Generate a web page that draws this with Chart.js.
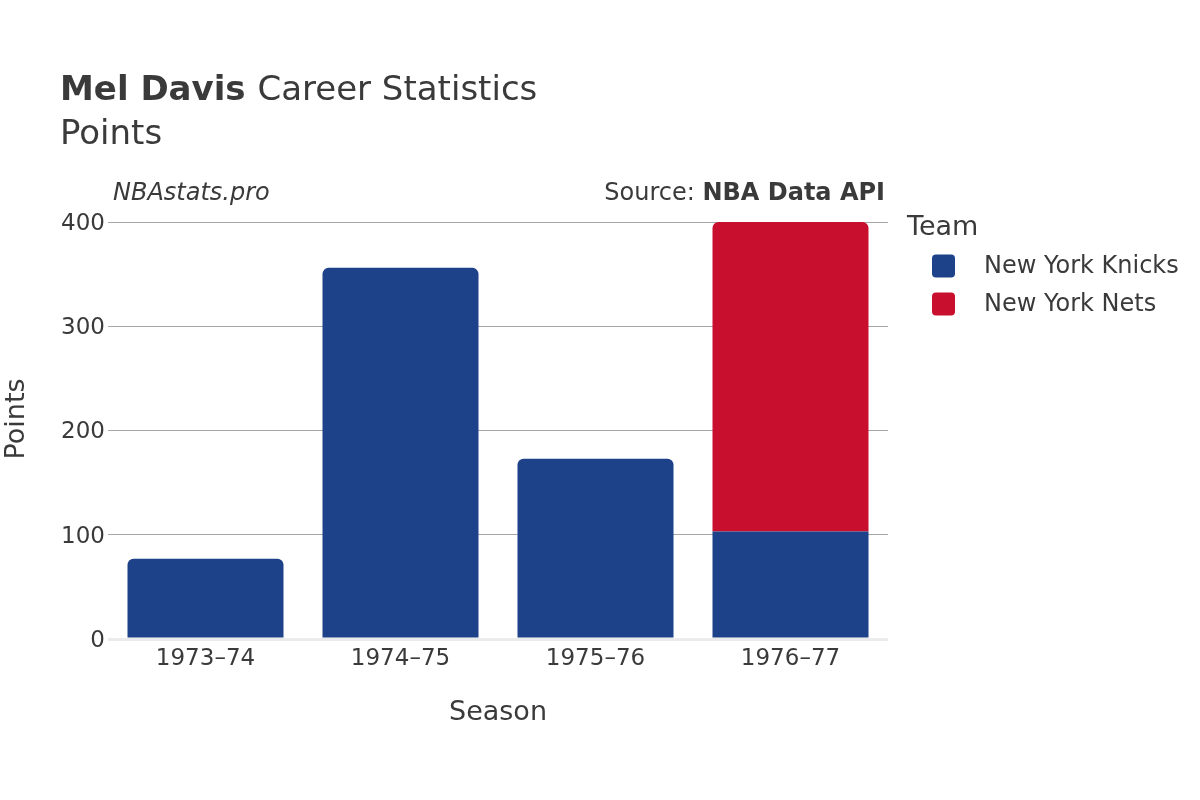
<!DOCTYPE html>
<html>
<head>
<meta charset="utf-8">
<script src="https://cdn.jsdelivr.net/npm/chart.js@4/dist/chart.umd.min.js"></script>
<style>
  html, body { margin: 0; padding: 0; background: #fff; }
  #wrap { width: 1200px; height: 800px; }
</style>
</head>
<body>
<div id="wrap"><canvas id="chart" width="1200" height="800"></canvas></div>
<script>
const seasons = ['1973–74', '1974–75', '1975–76', '1976–77'];
const knicksPts = [77, 356, 173, 103];
const netsPts   = [null, null, null, 297];
const yTicks    = [0, 100, 200, 300, 400];

const FONT = "'DejaVu Sans', sans-serif";
const TXT  = '#3a3a3a';

// header, y title and legend drawn straight onto the canvas
const decor = {
  id: 'decor',
  afterDraw(chart) {
    const c = chart.ctx;
    c.save();
    c.fillStyle = TXT;
    c.textBaseline = 'alphabetic';
    c.textAlign = 'left';

    c.font = `bold 34px ${FONT}`;
    c.fillText('Mel Davis', 60, 100);
    const w = c.measureText('Mel Davis ').width;
    c.font = `34px ${FONT}`;
    c.fillText('Career Statistics', 60 + w, 100);
    c.fillText('Points', 60, 144);

    c.font = `italic 24px ${FONT}`;
    c.fillText('NBAstats.pro', 113, 200);

    c.textAlign = 'right';
    c.font = `bold 24px ${FONT}`;
    const src = 'NBA Data API';
    c.fillText(src, 885, 200);
    const sw = c.measureText(src).width;
    c.font = `24px ${FONT}`;
    c.fillText('Source: ', 885 - sw, 200);

    // y axis title
    c.save();
    c.translate(17, 419);
    c.rotate(-Math.PI / 2);
    c.textAlign = 'center';
    c.textBaseline = 'middle';
    c.font = `27px ${FONT}`;
    c.fillText('Points', 0, 0);
    c.restore();

    // legend
    c.textAlign = 'left';
    c.textBaseline = 'middle';
    c.font = `27px ${FONT}`;
    c.fillText('Team', 907, 228);
    c.font = `24px ${FONT}`;
    chart.data.datasets.forEach((ds, i) => {
      const y = 266 + i * 38;
      c.fillStyle = ds.backgroundColor;
      c.beginPath();
      c.roundRect(932, y - 11.5, 23, 23, 4);
      c.fill();
      c.fillStyle = TXT;
      c.fillText(ds.label, 984, y + 1);
    });
    c.restore();
  }
};

new Chart(document.getElementById('chart'), {
  type: 'bar',
  data: {
    labels: seasons,
    datasets: [
      {
        label: 'New York Knicks',
        data: knicksPts,
        backgroundColor: '#1d428a',
        borderRadius: 6,
        borderSkipped: 'bottom',
      },
      {
        label: 'New York Nets',
        data: netsPts,
        backgroundColor: '#c8102e',
        borderColor: '#ffffff',
        borderWidth: { top: 0, left: 0, right: 0, bottom: 1 },
        borderRadius: 6,
        borderSkipped: 'bottom',
      }
    ]
  },
  options: {
    responsive: false,
    animation: false,
    layout: { padding: { top: 222, right: 312, left: 0, bottom: 0 } },
    plugins: { legend: { display: false }, tooltip: { enabled: false } },
    datasets: { bar: { categoryPercentage: 1, barPercentage: 0.8 } },
    scales: {
      x: {
        stacked: true,
        afterFit: s => { s.height = 161; },
        grid: { display: false },
        border: { display: false },
        ticks: { color: TXT, font: { family: FONT, size: 23 }, padding: -2, maxRotation: 0 },
        title: { display: true, text: 'Season', color: TXT, font: { family: FONT, size: 27 }, padding: { top: 0, bottom: 71 } }
      },
      y: {
        stacked: true,
        min: 0, max: 400,
        afterFit: s => { s.width = 108; },
        afterBuildTicks: s => { s.ticks = yTicks.map(v => ({ value: v })); },
        border: { display: false },
        grid: {
          drawTicks: false,
          color: ctx => ctx.tick && ctx.tick.value === 0 ? '#ebebeb' : '#a6a6a6',
          lineWidth: ctx => ctx.tick && ctx.tick.value === 0 ? 3 : 1
        },
        ticks: { color: TXT, font: { family: FONT, size: 23 }, padding: 3, labelOffset: 2 }
      }
    }
  },
  plugins: [decor]
});
</script>
</body>
</html>
